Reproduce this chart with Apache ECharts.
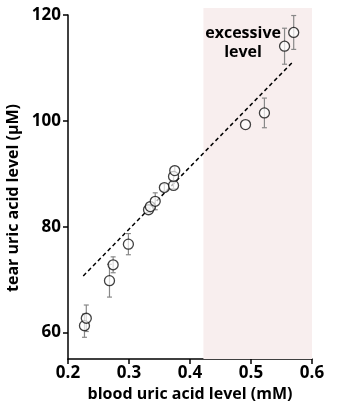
<!DOCTYPE html>
<html><head><meta charset="utf-8">
<script src="https://cdn.jsdelivr.net/npm/echarts@6/dist/echarts.min.js"></script>
<style>html,body{margin:0;padding:0;background:#fff}#c{width:337px;height:414px}</style>
</head><body><div id="c"></div>
<script>
const xs = [0.227, 0.230, 0.268, 0.274, 0.299, 0.332, 0.335, 0.343, 0.358, 0.373, 0.373, 0.375, 0.491, 0.522, 0.555, 0.570];
const ys = [61.3, 62.7, 69.8, 72.8, 76.7, 83.2, 83.8, 84.8, 87.4, 87.8, 89.5, 90.6, 99.3, 101.5, 114.1, 116.7];
const errs = [2.2, 2.5, 3.1, 1.5, 2.0, 0.5, 0.8, 1.6, 0.7, 0.6, 0.8, 0.8, 0, 2.8, 3.4, 3.2];
const fitX = [0.225, 0.570];
const fitY = [70.7, 111.3];
const shadeRange = [0.422, 0.6];
const shadeY = [55, 121.3];
const xTicks = [0.2, 0.3, 0.4, 0.5, 0.6];
const yTicks = [60, 80, 100, 120];
const annotation = ['excessive', 'level'];
const annotationPos = [0.487, 114.8];

const FONT = 'Open Sans';
const chart = echarts.init(document.getElementById('c'), null, {renderer: 'canvas'});
const pts = xs.map((x, i) => [x, ys[i], errs[i]]);
chart.setOption({
  animation: false,
  grid: {left: 68, right: 25, top: 15, bottom: 55, outerBoundsMode: 'none', containLabel: false},
  xAxis: {
    type: 'value', min: 0.2, max: 0.6,
    splitLine: {show: false},
    axisLine: {lineStyle: {color: '#000', width: 1.5}},
    axisTick: {customValues: xTicks, length: 5, lineStyle: {color: '#000', width: 1.5}},
    axisLabel: {customValues: xTicks, color: '#000', fontFamily: FONT, fontWeight: 'bold', fontSize: 17, margin: 6,
      formatter: v => v.toFixed(1)},
    name: 'blood uric acid level (mM)', nameLocation: 'middle', nameGap: 27,
    nameTextStyle: {color: '#000', fontFamily: FONT, fontWeight: 'bold', fontSize: 16}
  },
  yAxis: {
    type: 'value', min: 55, max: 120,
    splitLine: {show: false},
    axisLine: {lineStyle: {color: '#000', width: 1.5}},
    axisTick: {customValues: yTicks, length: 5, lineStyle: {color: '#000', width: 1.5}},
    axisLabel: {customValues: yTicks, color: '#000', fontFamily: FONT, fontWeight: 'bold', fontSize: 17, margin: 7},
    name: 'tear uric acid level (μM)', nameLocation: 'middle', nameGap: 46,
    nameTextStyle: {color: '#000', fontFamily: FONT, fontWeight: 'bold', fontSize: 16, padding: [0, 22, 0, 0]}
  },
  series: [
    {
      type: 'custom', z: 1, clip: false, silent: true,
      data: [[shadeRange[0], shadeRange[1], shadeY[0], shadeY[1]]],
      renderItem: (params, api) => {
        const p1 = api.coord([api.value(0), api.value(3)]);
        const p2 = api.coord([api.value(1), api.value(2)]);
        return {type: 'rect', shape: {x: p1[0], y: p1[1], width: p2[0] - p1[0], height: p2[1] - p1[1]},
          style: {fill: '#f8eeee'}};
      }
    },
    {
      type: 'custom', z: 6, clip: false, silent: true,
      data: [annotationPos],
      renderItem: (params, api) => {
        const p = api.coord([api.value(0), api.value(1)]);
        return {type: 'text', x: p[0], y: p[1],
          style: {text: annotation.join('\n'), fill: '#000', font: 'bold 16px "Open Sans"',
            align: 'center', verticalAlign: 'middle', lineHeight: 19}};
      }
    },
    {
      type: 'line', data: fitX.map((x, i) => [x, fitY[i]]), symbol: 'none', z: 3,
      lineStyle: {color: '#000', width: 1.5, type: [4, 3]}
    },
    {
      type: 'custom', z: 4,
      data: pts,
      renderItem: (params, api) => {
        const x = api.value(0), y = api.value(1), e = api.value(2);
        if (!e) return null;
        const top = api.coord([x, y + e]), bot = api.coord([x, y - e]);
        const st = {stroke: '#888', lineWidth: 1.2};
        return {type: 'group', children: [
          {type: 'line', shape: {x1: top[0], y1: top[1], x2: bot[0], y2: bot[1]}, style: st},
          {type: 'line', shape: {x1: top[0] - 2.5, y1: top[1], x2: top[0] + 2.5, y2: top[1]}, style: st},
          {type: 'line', shape: {x1: bot[0] - 2.5, y1: bot[1], x2: bot[0] + 2.5, y2: bot[1]}, style: st}
        ]};
      }
    },
    {
      type: 'scatter', z: 5, data: pts, symbol: 'circle', symbolSize: 10,
      itemStyle: {color: 'rgba(255,255,255,0.85)', borderColor: '#111', borderWidth: 1.3}
    }
  ]
});
</script></body></html>
